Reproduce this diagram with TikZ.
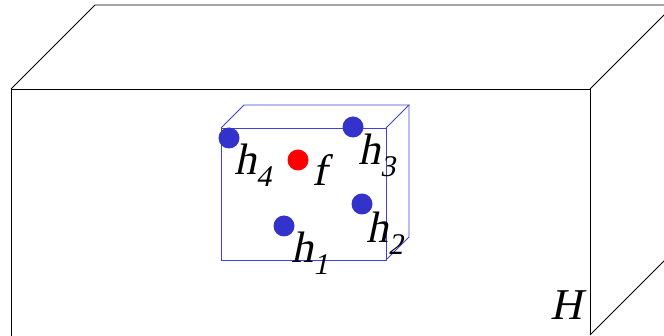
\documentclass[tikz,border=0pt]{standalone}
\usepackage{fontspec}
\newfontfamily\tms[FakeSlant=0.21]{Liberation Serif}
\definecolor{dotblue}{RGB}{51,51,204}
\definecolor{boxblue}{RGB}{64,64,220}
\newcommand{\lbltext}[2]{#1\raisebox{-12pt}{\fontsize{30}{30}\selectfont\tms #2}}
\tikzset{
  bigedge/.style={draw=black, line width=0.9pt},
  smalledge/.style={draw=boxblue, line width=0.8pt},
  dot/.style={circle, inner sep=0pt, minimum size=21pt},
  lbl/.style={anchor=base west, inner sep=0pt, font=\tms\fontsize{44}{44}\selectfont}
}
\begin{document}
\begin{tikzpicture}[x=1pt,y=-1pt]
\useasboundingbox (0,0) rectangle (664,336);
\clip (0,0) rectangle (664,336);
% big box H
\coordinate (A) at (11,89);
\coordinate (B) at (590,89);
\coordinate (C) at (590,335);
\coordinate (D) at (11,340);
\coordinate (E) at (95,5);
\coordinate (F) at (680,5);
\coordinate (G) at (674,5);
\coordinate (K) at (674,251);
\draw[bigedge] (D) -- (A) -- (B) -- (C);
\draw[bigedge] (A) -- (E) -- (F);
\draw[bigedge] (B) -- (G);
\draw[bigedge] (C) -- (K);
% small box
\coordinate (a) at (221,128);
\coordinate (b) at (386,128);
\coordinate (c) at (386,260);
\coordinate (d) at (221,260);
\coordinate (e) at (244,105);
\coordinate (g) at (409,105);
\coordinate (k) at (409,237);
\draw[smalledge] (a) -- (b) -- (c) -- (d) -- cycle;
\draw[smalledge] (a) -- (e) -- (g) -- (b);
\draw[smalledge] (g) -- (k) -- (c);
% points
\node[dot, fill=dotblue] (h4) at (229,138) {};
\node[dot, fill=red] (f) at (298,160) {};
\node[dot, fill=dotblue] (h3) at (353,127) {};
\node[dot, fill=dotblue] (h2) at (362,204) {};
\node[dot, fill=dotblue] (h1) at (284,226) {};
% labels
\node[lbl] (lh4) at (234,175) {\lbltext{h}{4}};
\node[lbl] (lf) at (312,186) {f};
\node[lbl] (lh3) at (358,165) {\lbltext{h}{3}};
\node[lbl] (lh2) at (366,243) {\lbltext{h}{2}};
\node[lbl] (lh1) at (291,263) {\lbltext{h}{1}};
\node[lbl] (lH) at (550,320) {H};
\end{tikzpicture}
\end{document}
